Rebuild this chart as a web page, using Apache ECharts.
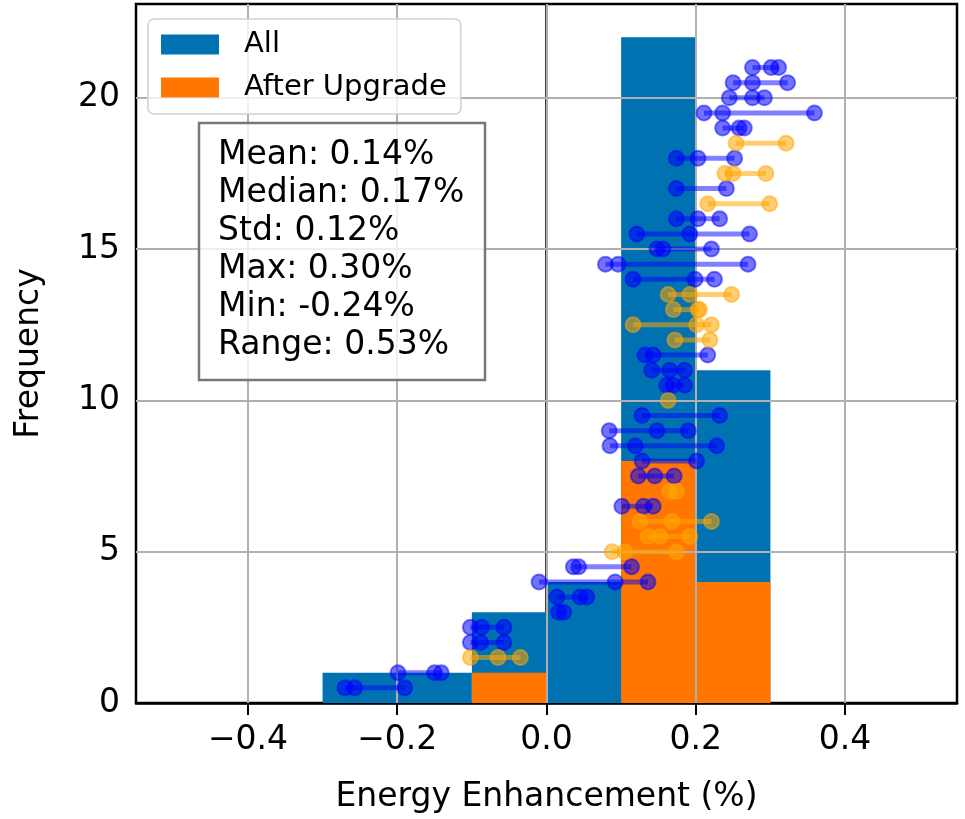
<!doctype html>
<html>
<head>
    <meta charset="utf-8">
    <script src="https://cdn.jsdelivr.net/npm/echarts@6/dist/echarts.min.js"></script>
</head>
<body style="margin: 0; background: #fff">
    <div id="container" style="width: 965px; height: 819px"></div>
    <script type="text/javascript">
        // histogram bins
        var binEdges = [-0.3, -0.2, -0.1, 0.0, 0.1, 0.2, 0.3];
        var allCounts = [1, 1, 3, 4, 22, 11];
        var upgradeCounts = [0, 0, 1, 0, 8, 4];

        var xTicks = [-0.4, -0.2, 0.0, 0.2, 0.4];
        var yTicks = [0, 5, 10, 15, 20];

        var statLines = ['Mean: 0.14%', 'Median: 0.17%', 'Std: 0.12%', 'Max: 0.30%', 'Min: -0.24%', 'Range: 0.53%'];

        // dumbbell rows (blue)
        var blueLevels = [0.5, 1, 2, 2.5, 3, 3.5, 4, 4.5, 6.5, 7.5, 8, 8.5, 9, 9.5, 10.5, 11, 11.5,
            14, 14.5, 15, 15.5, 16, 17, 18, 19, 19.5, 20, 20.5, 21];
        var blueRows = [
            [-0.270, -0.257, -0.190],
            [-0.199, -0.150, -0.141],
            [-0.102, -0.088, -0.057],
            [-0.102, -0.087, -0.057],
            [0.016, 0.023],
            [0.014, 0.045, 0.054],
            [-0.010, 0.092, 0.136],
            [0.036, 0.043, 0.114],
            [0.101, 0.130, 0.143],
            [0.123, 0.145, 0.171],
            [0.128, 0.201],
            [0.085, 0.119, 0.228],
            [0.084, 0.148, 0.190],
            [0.128, 0.232],
            [0.161, 0.170, 0.185],
            [0.141, 0.165, 0.185],
            [0.132, 0.143, 0.216],
            [0.116, 0.199, 0.225],
            [0.079, 0.096, 0.270],
            [0.148, 0.156, 0.221],
            [0.121, 0.192, 0.272],
            [0.174, 0.203, 0.232],
            [0.174, 0.241],
            [0.174, 0.203, 0.252],
            [0.236, 0.258, 0.265],
            [0.211, 0.236, 0.359],
            [0.245, 0.276, 0.292],
            [0.250, 0.276, 0.323],
            [0.276, 0.301, 0.311]
        ];

        // dumbbell rows (orange)
        var orangeLevels = [1.5, 5, 5.5, 6, 7, 10, 12, 12.5, 13, 13.5, 16.5, 17.5, 18.5];
        var orangeRows = [
            [-0.102, -0.065, -0.035],
            [0.088, 0.105, 0.174],
            [0.136, 0.152, 0.192],
            [0.125, 0.168, 0.221],
            [0.165, 0.174],
            [0.163],
            [0.172, 0.219],
            [0.116, 0.201, 0.221],
            [0.170, 0.203, 0.205],
            [0.163, 0.192, 0.248],
            [0.216, 0.299],
            [0.239, 0.250, 0.294],
            [0.254, 0.321]
        ];

        var FONT = 'DejaVu Sans';

        function binData(counts) {
            var out = [];
            for (var i = 0; i < counts.length; i++) {
                if (counts[i] > 0) out.push([binEdges[i], binEdges[i + 1], counts[i]]);
            }
            return out;
        }
        function spanData(levels, rows) {
            return rows.map(function (r, i) {
                return [Math.min.apply(null, r), Math.max.apply(null, r), levels[i]];
            });
        }
        function dotData(levels, rows) {
            var out = [];
            rows.forEach(function (r, i) {
                r.forEach(function (v) { out.push([v, levels[i]]); });
            });
            return out;
        }

        function renderBin(params, api) {
            var p0 = api.coord([api.value(0), api.value(2)]);
            var p1 = api.coord([api.value(1), 0]);
            return {
                type: 'rect',
                shape: { x: p0[0], y: p0[1], width: p1[0] - p0[0], height: p1[1] - p0[1] },
                style: { fill: api.visual('color') }
            };
        }
        function makeSpanRenderer(stroke) {
            return function (params, api) {
                var a = api.coord([api.value(0), api.value(2)]);
                var b = api.coord([api.value(1), api.value(2)]);
                return {
                    type: 'line',
                    shape: { x1: a[0], y1: a[1], x2: b[0], y2: b[1] },
                    style: { stroke: stroke, lineWidth: 5 }
                };
            };
        }

        var gridLines = xTicks.map(function (v) { return { xAxis: v }; })
            .concat(yTicks.slice(1).map(function (v) { return { yAxis: v }; }));

        var myChart = echarts.init(document.getElementById('container'));
        var option = {
            animation: false,
            textStyle: { fontFamily: FONT },
            grid: {
                left: 136, right: 8, top: 4, bottom: 111,
                show: true, borderColor: '#000', borderWidth: 2.5, backgroundColor: 'transparent'
            },
            legend: {
                data: [{ name: 'All', icon: 'rect' }, { name: 'After Upgrade', icon: 'rect' }],
                orient: 'vertical',
                left: 148, top: 19,
                padding: [11, 14, 12, 13],
                itemWidth: 58, itemHeight: 20, itemGap: 14,
                borderColor: '#d0d0d0', borderWidth: 1.5, borderRadius: 6,
                backgroundColor: 'rgba(255,255,255,0.8)',
                textStyle: { fontFamily: FONT, fontSize: 29, color: '#000', padding: [0, 0, 0, 20] }
            },
            xAxis: {
                type: 'value', min: -0.55, max: 0.55,
                name: 'Energy Enhancement (%)', nameLocation: 'middle', nameGap: 78,
                nameTextStyle: { fontFamily: FONT, fontSize: 33, color: '#000' },
                axisLine: { show: true, lineStyle: { color: '#000', width: 2.5 } },
                axisTick: { show: true, customValues: xTicks, length: 12, lineStyle: { color: '#000', width: 2 } },
                axisLabel: {
                    customValues: xTicks, margin: 21, fontFamily: FONT, fontSize: 33, color: '#000',
                    formatter: function (v) { return (v < -1e-9 ? '\u2212' : '') + Math.abs(v).toFixed(1); }
                },
                splitLine: { show: false }
            },
            yAxis: {
                type: 'value', min: 0, max: 23.1, interval: 5,
                name: 'Frequency', nameLocation: 'middle', nameGap: 90,
                nameTextStyle: { fontFamily: FONT, fontSize: 33, color: '#000' },
                axisLine: { show: true, lineStyle: { color: '#000', width: 2.5 } },
                axisTick: { show: true, customValues: yTicks, length: 12, lineStyle: { color: '#000', width: 2 } },
                axisLabel: { customValues: yTicks, margin: 16, fontFamily: FONT, fontSize: 33, color: '#000' },
                splitLine: { show: false }
            },
            series: [
                {
                    name: 'All', type: 'custom', z: 2,
                    itemStyle: { color: '#0072b2' },
                    encode: { x: [0, 1], y: 2 },
                    renderItem: renderBin,
                    data: binData(allCounts)
                },
                {
                    name: 'After Upgrade', type: 'custom', z: 2,
                    itemStyle: { color: '#ff7700' },
                    encode: { x: [0, 1], y: 2 },
                    renderItem: renderBin,
                    data: binData(upgradeCounts)
                },
                {
                    name: 'grid', type: 'scatter', z: 3, data: [], silent: true,
                    markLine: {
                        z: 3, silent: true, symbol: ['none', 'none'], label: { show: false },
                        lineStyle: { color: '#b0b0b0', width: 2, type: 'solid' },
                        emphasis: { disabled: true },
                        data: gridLines
                    }
                },
                {
                    name: 'blueSpan', type: 'custom', z: 6, silent: true,
                    encode: { x: [0, 1], y: 2 },
                    renderItem: makeSpanRenderer('rgba(0,0,255,0.5)'),
                    data: spanData(blueLevels, blueRows)
                },
                {
                    name: 'orangeSpan', type: 'custom', z: 6, silent: true,
                    encode: { x: [0, 1], y: 2 },
                    renderItem: makeSpanRenderer('rgba(255,165,0,0.55)'),
                    data: spanData(orangeLevels, orangeRows)
                },
                {
                    name: 'blueDot', type: 'scatter', z: 7, silent: true,
                    symbol: 'circle', symbolSize: 15,
                    itemStyle: { color: 'rgba(0,0,255,0.55)', borderColor: 'rgba(0,0,255,0.5)', borderWidth: 2, opacity: 1 },
                    data: dotData(blueLevels, blueRows)
                },
                {
                    name: 'orangeDot', type: 'scatter', z: 7, silent: true,
                    symbol: 'circle', symbolSize: 15,
                    itemStyle: { color: 'rgba(255,165,0,0.55)', borderColor: 'rgba(255,165,0,0.5)', borderWidth: 2, opacity: 1 },
                    data: dotData(orangeLevels, orangeRows)
                }
            ],
            graphic: [
                {
                    type: 'rect', z: 20,
                    shape: { x: 199, y: 123, width: 286, height: 257 },
                    style: { fill: 'rgba(255,255,255,0.8)', stroke: '#777', lineWidth: 2.5 }
                },
                {
                    type: 'text', z: 21, x: 218, y: 136,
                    style: {
                        text: statLines.join('\n'), fill: '#000',
                        font: '33px "DejaVu Sans"', lineHeight: 38
                    }
                }
            ]
        };
        myChart.setOption(option);
    </script>
</body>
</html>
